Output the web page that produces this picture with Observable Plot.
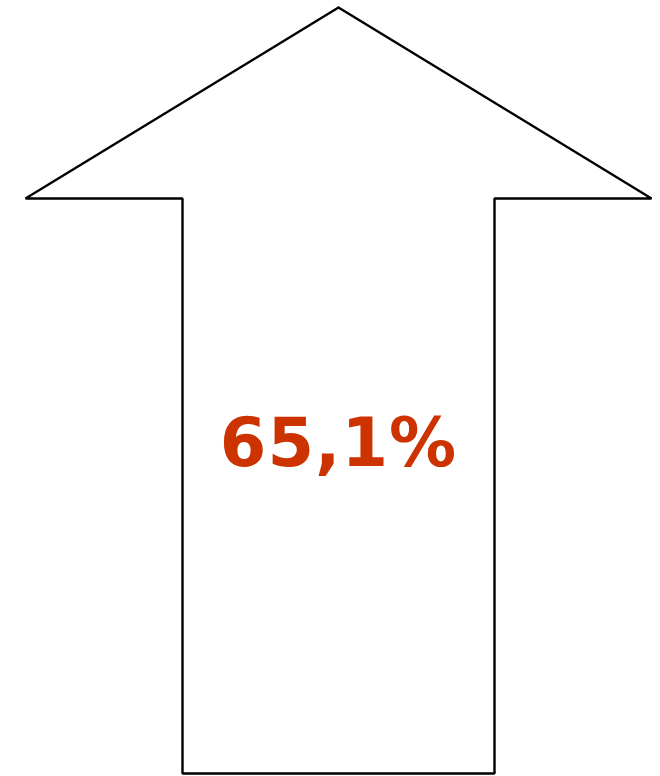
<!DOCTYPE html>
<html>
<head>
<meta charset="utf-8">
<script src="https://cdn.jsdelivr.net/npm/d3@7"></script>
<script src="https://cdn.jsdelivr.net/npm/@observablehq/plot@0.6"></script>
<style>
  html, body { margin: 0; padding: 0; background: #fff; }
  #chart svg { display: block; }
</style>
</head>
<body>
<div id="chart"></div>
<script>
// Arrow outline (chart units) and the displayed value
const arrowX = [338, 651, 494, 494, 182, 182, 25, 338];
const arrowY = [7, 198, 198, 773, 773, 198, 198, 7];
const valueLabel = ["65,1%"];
const labelPos = [{x: 338, y: 444}];

const outline = arrowX.map((x, i) => ({x, y: arrowY[i]}));
const labels = labelPos.map((p, i) => ({...p, text: valueLabel[i]}));

const chart = Plot.plot({
  width: 660,
  height: 776,
  margin: 0,
  x: {domain: [0, 660], axis: null},
  y: {domain: [0, 776], range: [0, 776], axis: null},
  marks: [
    Plot.line(outline, {x: "x", y: "y", stroke: "#000", strokeWidth: 2.4, strokeLinejoin: "miter", curve: "linear"}),
    Plot.text(labels, {x: "x", y: "y", text: "text", fill: "#cc3300", fontSize: 67, fontWeight: "bold", fontFamily: "DejaVu Sans", textAnchor: "middle", lineAnchor: "middle"})
  ]
});
chart.querySelectorAll("text").forEach(t => t.setAttribute("letter-spacing", "1"));
document.getElementById("chart").appendChild(chart);
</script>
</body>
</html>
